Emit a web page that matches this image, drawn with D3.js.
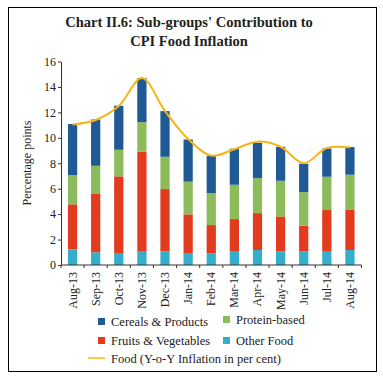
<!DOCTYPE html>
<html><head><meta charset="utf-8">
<script src="https://cdn.jsdelivr.net/npm/d3@7"></script>
<style>body{margin:0;background:#fff}svg{display:block}text{font-family:"Liberation Serif","DejaVu Serif",serif;fill:#222}</style>
</head><body>
<script>
const months = ["Aug-13","Sep-13","Oct-13","Nov-13","Dec-13","Jan-14","Feb-14","Mar-14","Apr-14","May-14","Jun-14","Jul-14","Aug-14"];
const otherFood = [1.23,1.0,0.94,1.1,1.07,0.94,0.92,1.05,1.18,1.07,1.07,1.1,1.18];
const fruitsVeg = [3.54,4.63,6.03,7.8,4.9,3.04,2.22,2.56,2.9,2.75,2.02,3.22,3.19];
const proteinBased = [2.3,2.17,2.09,2.33,2.54,2.57,2.52,2.7,2.75,2.8,2.64,2.62,2.73];
const cereals = [4.01,3.64,3.46,3.46,3.59,3.32,2.93,2.83,2.78,2.67,2.23,2.22,2.17];
const foodInflation = [11.05,11.4,12.5,14.7,12.1,9.9,8.6,9.1,9.7,9.3,8.0,9.2,9.25];
const yTicks = [0,2,4,6,8,10,12,14,16];

const W=383,H=381;
const svg=d3.select("body").append("svg").attr("width",W).attr("height",H);
svg.append("rect").attr("x",8.5).attr("y",7.5).attr("width",368).attr("height",364).attr("fill","none").attr("stroke","#000").attr("stroke-width",1);

svg.append("text").attr("x",189).attr("y",27).attr("text-anchor","middle").attr("font-size",14.5).attr("font-weight","bold").text("Chart II.6: Sub-groups' Contribution to");
svg.append("text").attr("x",189).attr("y",46).attr("text-anchor","middle").attr("font-size",14.5).attr("font-weight","bold").text("CPI Food Inflation");

const x=d3.scaleBand().domain(months).range([61,361.5]).paddingInner(0.6).paddingOuter(0.3);
const y=d3.scaleLinear().domain([0,16]).range([265,61.5]);

const series=[
 {name:"Other Food",vals:otherFood,color:"#35AECB"},
 {name:"Fruits & Vegetables",vals:fruitsVeg,color:"#E23B1E"},
 {name:"Protein-based",vals:proteinBased,color:"#8CBB5C"},
 {name:"Cereals & Products",vals:cereals,color:"#1F5A94"}
];
const cum=months.map(()=>0);
series.forEach(s=>{
  svg.append("g").selectAll("rect").data(months).join("rect")
   .attr("x",d=>x(d)).attr("width",x.bandwidth())
   .attr("y",(d,i)=>y(cum[i]+s.vals[i]))
   .attr("height",(d,i)=>y(cum[i])-y(cum[i]+s.vals[i]))
   .attr("fill",s.color);
  months.forEach((d,i)=>cum[i]+=s.vals[i]);
});

// line
const line=d3.line().x((d,i)=>x(months[i])+x.bandwidth()/2).y(d=>y(d)).curve(d3.curveCatmullRom.alpha(0.5));
svg.append("path").datum(foodInflation).attr("d",line).attr("fill","none").attr("stroke","#F7B418").attr("stroke-width",2);

// axes
const yAxis=svg.append("g").attr("transform","translate(61,0)").call(d3.axisLeft(y).tickValues(yTicks).tickSize(3).tickSizeOuter(0));
yAxis.select(".domain").attr("stroke","#333");
yAxis.selectAll(".tick line").attr("stroke","#333");
yAxis.selectAll("text").attr("font-size",12).attr("font-family","Liberation Serif, serif").attr("fill","#222").attr("x",-5);

const xAxis=svg.append("g").attr("transform","translate(0,265)");
xAxis.append("line").attr("x1",61).attr("x2",361.5).attr("stroke","#333");
const bounds=d3.range(months.length+1).map(i=>61+i*(300.5/months.length));
xAxis.selectAll("line.t").data(bounds).join("line").attr("class","t").attr("x1",d=>d).attr("x2",d=>d).attr("y1",0).attr("y2",3).attr("stroke","#333");
xAxis.selectAll("text").data(months).join("text")
 .attr("transform",d=>`translate(${x(d)+x.bandwidth()/2+4},7) rotate(-90)`)
 .attr("text-anchor","end").attr("font-size",12).text(d=>d);

svg.append("text").attr("transform","translate(31,163) rotate(-90)").attr("text-anchor","middle").attr("font-size",12).text("Percentage points");

// legend
const leg=[
 {n:"Cereals & Products",c:"#1F5A94",x:98,y:318},
 {n:"Protein-based",c:"#8CBB5C",x:223,y:316},
 {n:"Fruits & Vegetables",c:"#E23B1E",x:98,y:337},
 {n:"Other Food",c:"#35AECB",x:223,y:337}
];
leg.forEach(l=>{
  svg.append("rect").attr("x",l.x).attr("y",l.y).attr("width",7).attr("height",7).attr("fill",l.c);
  svg.append("text").attr("x",l.x+13).attr("y",l.y+7.5).attr("font-size",12.5).text(l.n);
});
svg.append("line").attr("x1",88).attr("x2",105).attr("y1",358).attr("y2",358).attr("stroke","#F7B418").attr("stroke-width",1.5);
svg.append("text").attr("x",111).attr("y",363).attr("font-size",12.5).text("Food (Y-o-Y Inflation in per cent)");
</script>
</body></html>
